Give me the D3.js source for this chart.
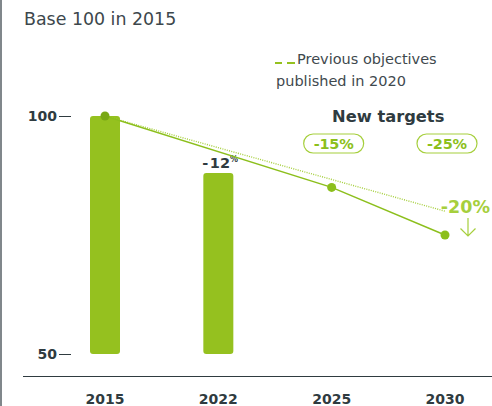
<!DOCTYPE html>
<html>
<head>
<meta charset="utf-8">
<script src="https://cdn.jsdelivr.net/npm/d3@7"></script>
<style>
  html, body { margin: 0; padding: 0; background: #fff; }
  svg { display: block; font-family: "DejaVu Sans", sans-serif; }
</style>
</head>
<body>
<svg id="chart" width="492" height="406"></svg>
<script>
// Emissions index, base 100 in 2015
const years = ["2015", "2022", "2025", "2030"];
const barValues = [100, 88];                 // actuals for 2015 and 2022
const targetYears = ["2015", "2025", "2030"];
const targetValues = [100, 85, 75];          // new targets
const previousYears = ["2015", "2030"];
const previousValues = [100, 80];            // objectives published in 2020
const targetLabels = ["-15%", "-25%"];
const yTicks = [50, 100];

const green = "#95c11f";
const lineGreen = "#8cbf1c";
const lightGreen = "#a6cf3d";
const dark = "#2f3b40";

const svg = d3.select("#chart");

const x = d3.scalePoint().domain(years).range([105, 445]);
const y = d3.scaleLinear().domain([50, 100]).range([354, 116]);

// left frame rule
svg.append("rect").attr("x", 0).attr("y", 0).attr("width", 2).attr("height", 406).attr("fill", "#80878b");

// title
svg.append("text").attr("x", 24).attr("y", 25)
  .attr("font-size", 17.4).attr("fill", "#3d474c").text("Base 100 in 2015");

// y axis
const yAxis = svg.append("g").attr("transform", "translate(71,0)")
  .call(d3.axisLeft(y).tickValues(yTicks).tickSize(12).tickPadding(2));
yAxis.select(".domain").remove();
yAxis.selectAll(".tick line").attr("stroke", dark).attr("stroke-width", 1);
yAxis.selectAll(".tick text").attr("fill", dark).attr("font-size", 14)
  .attr("font-weight", "bold").attr("font-family", "DejaVu Sans, sans-serif");

// bars
svg.selectAll("rect.bar").data(barValues).join("rect")
  .attr("class", "bar")
  .attr("x", (d, i) => x(years[i]) - 15)
  .attr("width", 30)
  .attr("y", d => y(d))
  .attr("height", d => y(50) - y(d))
  .attr("rx", 3)
  .attr("fill", green);

// -12% label over the 2022 bar
const lbl = svg.append("text")
  .attr("x", x("2022") - 16).attr("y", y(barValues[1]) - 5)
  .attr("font-weight", "bold").attr("fill", dark);
lbl.append("tspan").attr("font-size", 14.5).text("-" + "\u200A" + (100 - barValues[1]));
lbl.append("tspan").attr("font-size", 8).attr("dy", -6).text("%");

// previous objective (dotted)
const line = d3.line().x(d => x(d[0])).y(d => y(d[1]));
svg.append("path")
  .datum(previousYears.map((yr, i) => [yr, previousValues[i]]))
  .attr("d", line).attr("fill", "none")
  .attr("stroke", lightGreen).attr("stroke-width", 1.4)
  .attr("stroke-dasharray", "1,1.3");

// new targets (solid)
const targetPts = targetYears.map((yr, i) => [yr, targetValues[i]]);
svg.append("path").datum(targetPts).attr("d", line).attr("fill", "none")
  .attr("stroke", lineGreen).attr("stroke-width", 1.5);

svg.selectAll("circle.pt").data(targetPts).join("circle")
  .attr("class", "pt")
  .attr("cx", d => x(d[0])).attr("cy", d => y(d[1]))
  .attr("r", 4.5)
  .attr("fill", (d, i) => i === 0 ? "#79a814" : lineGreen);

// x axis baseline and labels
svg.append("line").attr("x1", 23).attr("x2", 492).attr("y1", 376.5).attr("y2", 376.5)
  .attr("stroke", dark).attr("stroke-width", 1.2);
svg.selectAll("text.year").data(years).join("text")
  .attr("class", "year")
  .attr("x", d => x(d)).attr("y", 404)
  .attr("text-anchor", "middle").attr("font-size", 14)
  .attr("font-weight", "bold").attr("fill", dark).text(d => d);

// legend
svg.append("line").attr("x1", 275).attr("x2", 282).attr("y1", 63).attr("y2", 63)
  .attr("stroke", green).attr("stroke-width", 2);
svg.append("line").attr("x1", 287).attr("x2", 295).attr("y1", 63).attr("y2", 63)
  .attr("stroke", green).attr("stroke-width", 2);
svg.append("text").attr("x", 297).attr("y", 64).attr("font-size", 14.5)
  .attr("fill", "#3f494e").text("Previous objectives");
svg.append("text").attr("x", 276).attr("y", 86).attr("font-size", 14.5)
  .attr("fill", "#3f494e").text("published in 2020");

// new targets heading and pills
svg.append("text").attr("x", 332).attr("y", 122).attr("font-size", 16.3)
  .attr("font-weight", "bold").attr("fill", dark).text("New targets");

const pills = svg.selectAll("g.pill").data(targetLabels).join("g")
  .attr("class", "pill")
  .attr("transform", (d, i) => `translate(${x(targetYears[i + 1]) + 2},143.5)`);
pills.append("rect").attr("x", -30).attr("y", -9.5).attr("width", 60).attr("height", 19)
  .attr("rx", 9.5).attr("fill", "#fff").attr("stroke", lightGreen).attr("stroke-width", 1.2);
pills.append("text").attr("y", 5.5).attr("text-anchor", "middle")
  .attr("font-size", 14.5).attr("font-weight", "bold").attr("fill", lineGreen)
  .attr("textLength", 40).attr("lengthAdjust", "spacing")
  .text(d => d);

// -20% previous objective marker with arrow
svg.append("text").attr("x", 490).attr("y", 212.5).attr("font-size", 17.5)
  .attr("text-anchor", "end")
  .attr("font-weight", "bold").attr("fill", lightGreen)
  .text("-" + (100 - previousValues[1]) + "%");
const ax = 468;
svg.append("path")
  .attr("d", `M${ax},218 L${ax},236 M${ax - 7.5},228.5 L${ax},236 L${ax + 7.5},228.5`)
  .attr("fill", "none").attr("stroke", lightGreen).attr("stroke-width", 1.2);
</script>
</body>
</html>
